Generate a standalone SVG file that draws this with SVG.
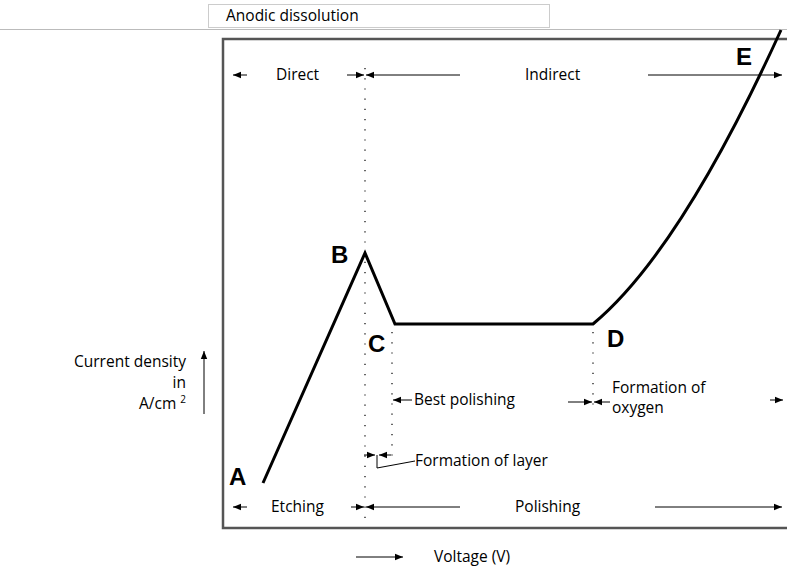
<svg xmlns="http://www.w3.org/2000/svg" width="787" height="569" viewBox="0 0 787 569">
<defs>
<marker id="ah" viewBox="0 0 10 10" refX="10" refY="5" markerWidth="8" markerHeight="8" markerUnits="userSpaceOnUse" orient="auto"><path d="M0,1 L10,5 L0,9 z" fill="#000"/></marker>
<style>
.t{font-family:"Open Sans","Liberation Sans",Arial,sans-serif;font-size:15.5px;fill:#000}
.L{font-family:"Liberation Sans",Arial,sans-serif;font-size:24px;font-weight:bold;fill:#000}
.a{stroke:#000;stroke-width:1;fill:none;marker-end:url(#ah)}
.d{stroke:#000;stroke-width:1.2;stroke-dasharray:1.2 9;fill:none}
.c{stroke:#000;stroke-width:3;fill:none;stroke-linejoin:miter}
</style>
</defs>
<rect width="787" height="569" fill="#fff"/>
<g id="title">
<rect x="208.5" y="4.5" width="341" height="23" fill="#fff" stroke="#ccc"/>
<text class="t" x="226" y="21">Anodic dissolution</text>
</g>
<line x1="0" y1="29.5" x2="787" y2="29.5" stroke="#bbb" stroke-width="1"/>
<g id="frame">
<path d="M800,39 H223 V528 H800" fill="none" stroke="#555" stroke-width="2.5"/>
</g>
<g id="curve">
<path class="c" d="M263,483 L365,253 L395,324 H593 C670,260 740,120 781,30"/>
</g>
<g id="guides">
<line class="d" x1="365" y1="68" x2="365" y2="525"/>
<line class="d" x1="392" y1="332" x2="392" y2="458"/>
<line class="d" x1="593" y1="332" x2="593" y2="412"/>
</g>
<g id="connectors">
<line class="a" x1="247" y1="75" x2="233" y2="75"/>
<line class="a" x1="347" y1="75" x2="364" y2="75"/>
<line class="a" x1="460" y1="75" x2="366" y2="75"/>
<line class="a" x1="648" y1="75" x2="782" y2="75"/>
<line class="a" x1="247" y1="507" x2="233" y2="507"/>
<line class="a" x1="351" y1="507" x2="364" y2="507"/>
<line class="a" x1="460" y1="507" x2="366" y2="507"/>
<line class="a" x1="655" y1="507" x2="782" y2="507"/>
<line class="a" x1="412" y1="400" x2="393" y2="400"/>
<line class="a" x1="568" y1="402" x2="592" y2="402"/>
<line class="a" x1="610" y1="402" x2="594" y2="402"/>
<line class="a" x1="770" y1="400" x2="783" y2="400"/>
<line class="a" x1="364" y1="455" x2="375" y2="455"/>
<line class="a" x1="391" y1="455" x2="379" y2="455"/>
<polyline points="377,455 377,468 415,461" fill="none" stroke="#000" stroke-width="1"/>
<line class="a" x1="204" y1="414" x2="204" y2="351"/>
<line class="a" x1="356" y1="557" x2="403" y2="557"/>
</g>
<g id="labels">
<text class="L" x="229" y="485">A</text>
<text class="L" x="331" y="263">B</text>
<text class="L" x="368" y="352">C</text>
<text class="L" x="607" y="347">D</text>
<text class="L" x="736" y="65">E</text>
</g>
<g id="texts">
<text class="t" x="276" y="80">Direct</text>
<text class="t" x="525" y="80">Indirect</text>
<text class="t" x="271" y="512">Etching</text>
<text class="t" x="515" y="512">Polishing</text>
<text class="t" x="414" y="405">Best polishing</text>
<text class="t" x="612" y="393">Formation of</text>
<text class="t" x="612" y="413">oxygen</text>
<text class="t" x="415" y="466">Formation of layer</text>
<text class="t" x="186" y="367" text-anchor="end">Current density</text>
<text class="t" x="186" y="388" text-anchor="end">in</text>
<text class="t" x="186" y="409" text-anchor="end">A/cm <tspan font-size="10" dy="-6">2</tspan></text>
<text class="t" x="434" y="562">Voltage (V)</text>
</g>
</svg>
